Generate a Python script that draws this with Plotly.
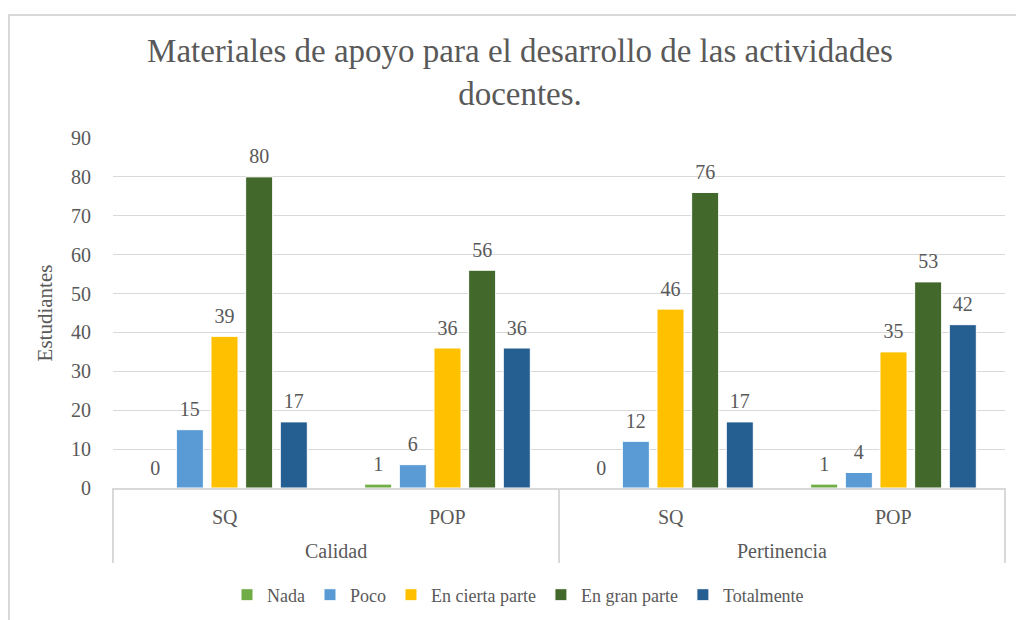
import plotly.graph_objects as go

groups = ["Calidad", "Calidad", "Pertinencia", "Pertinencia"]
subcats = ["SQ", "POP", "SQ", "POP"]
series_names = ["Nada", "Poco", "En cierta parte", "En gran parte", "Totalmente"]
nada = [0, 1, 0, 1]
poco = [15, 6, 12, 4]
cierta = [39, 36, 46, 35]
gran = [80, 56, 76, 53]
total = [17, 36, 17, 42]
colors = ["#70AD47", "#5B9BD5", "#FFC000", "#43682B", "#255E91"]
yticks = [0, 10, 20, 30, 40, 50, 60, 70, 80, 90]

FONT = "Liberation Serif, Times New Roman, serif"
GREY = "#595959"
LINE = "#d9d9d9"
BARGAP = 0.223

fig = go.Figure()
all_vals = [nada, poco, cierta, gran, total]
for name, vals, col in zip(series_names, all_vals, colors):
    fig.add_trace(go.Bar(
        name=name, x=[groups, subcats], y=vals,
        marker=dict(color=col, line=dict(color="white", width=1)),
        hoverinfo="y",
    ))
# value labels (grouped scatter aligned with the bars)
for name, vals, col in zip(series_names, all_vals, colors):
    fig.add_trace(go.Scatter(
        x=[groups, subcats], y=vals, mode="markers+text",
        text=[str(v) for v in vals], textposition="top center",
        textfont=dict(family=FONT, size=20, color=GREY),
        marker=dict(size=12, color="rgba(0,0,0,0)"),
        showlegend=False, hoverinfo="skip", cliponaxis=False,
    ))

W, H = 1016, 620
L, R, T, B = 113, 1005, 138, 488
pw, ph = R - L, B - T

def px(x):
    return (x - L) / pw

def py(y):
    return (B - y) / ph

n = len(subcats)
annotations = []
for i, s in enumerate(subcats):
    annotations.append(dict(text=s, xref="paper", yref="paper", x=(i + 0.5) / n, y=py(517),
                            xanchor="center", yanchor="middle", showarrow=False,
                            font=dict(family=FONT, size=20, color=GREY)))
ugroups = list(dict.fromkeys(groups))
boundaries = [0.0]
for g in ugroups:
    idx = [i for i, gg in enumerate(groups) if gg == g]
    annotations.append(dict(text=g, xref="paper", yref="paper", x=(sum(idx) / len(idx) + 0.5) / n,
                            y=py(551), xanchor="center", yanchor="middle", showarrow=False,
                            font=dict(family=FONT, size=20, color=GREY)))
    boundaries.append((max(idx) + 1) / n)

shapes = [dict(type="line", xref="paper", yref="paper", x0=b, x1=b, y0=py(488), y1=py(563),
               line=dict(color=LINE, width=2)) for b in boundaries]
shapes.append(dict(type="rect", xref="paper", yref="paper",
                   x0=px(9), x1=px(1030), y0=py(640), y1=py(15),
                   line=dict(color=LINE, width=2), layer="below"))

fig.update_layout(
    width=W, height=H,
    margin=dict(l=L, r=W - R, t=T, b=H - B, autoexpand=False),
    paper_bgcolor="white", plot_bgcolor="white",
    font=dict(family=FONT, size=20, color=GREY),
    title=dict(
        text="Materiales de apoyo para el desarrollo de las actividades<br>docentes.",
        x=520 / W, xanchor="center", y=1 - 62 / H, yanchor="top",
        font=dict(family=FONT, size=33, color=GREY),
    ),
    barmode="group", bargap=BARGAP, bargroupgap=0.22,
    scattermode="group", scattergap=BARGAP,
    showlegend=True,
    legend=dict(orientation="h", x=px(518), xanchor="center", y=py(595), yanchor="middle",
                font=dict(family=FONT, size=18, color=GREY), itemwidth=30,
                traceorder="normal"),
    annotations=annotations, shapes=shapes,
)
fig.update_yaxes(
    range=[0, 90], tickvals=yticks, showgrid=True, gridcolor=LINE, gridwidth=1,
    zeroline=False, showline=False, ticks="", ticklabelstandoff=21, automargin=False,
    title=dict(text="Estudiantes", font=dict(family=FONT, size=21, color=GREY), standoff=12),
    tickfont=dict(family=FONT, size=20, color=GREY),
)
fig.update_xaxes(
    type="multicategory", showline=True, linecolor=LINE, linewidth=2,
    showdividers=False, showticklabels=False, automargin=False, ticks="",
)

fig.write_html("out.html", config={"displayModeBar": False},
               post_script="document.body.style.margin='0';")
